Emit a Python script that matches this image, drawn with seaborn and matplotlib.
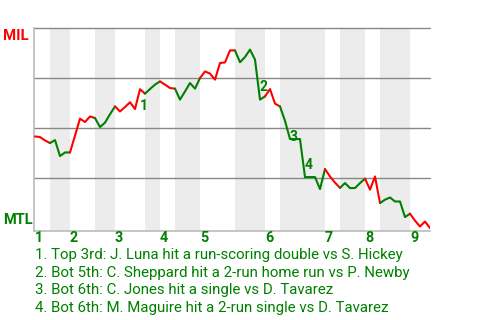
import matplotlib
matplotlib.use("Agg")
import matplotlib.pyplot as plt
import seaborn as sns
import numpy as np
import pandas as pd

# ---- data ----
win_prob = [0.458, 0.455, 0.438, 0.425, 0.44, 0.36, 0.378, 0.378, 0.462, 0.547,
            0.53, 0.558, 0.55, 0.505, 0.527, 0.569, 0.608, 0.583, 0.605, 0.629,
            0.595, 0.694, 0.672, 0.695, 0.717, 0.733, 0.717, 0.70, 0.697, 0.642,
            0.683, 0.725, 0.697, 0.75, 0.783, 0.772, 0.742, 0.825, 0.828, 0.888,
            0.888, 0.829, 0.855, 0.892, 0.842, 0.642, 0.658, 0.695, 0.622, 0.608,
            0.536, 0.445, 0.445, 0.445, 0.255, 0.255, 0.255, 0.195, 0.295, 0.258,
            0.227, 0.201, 0.225, 0.20, 0.20, 0.225, 0.247, 0.192, 0.258, 0.125,
            0.142, 0.153, 0.133, 0.133, 0.055, 0.072, 0.037, 0.008, 0.033, 0.0]
half_start = [0, 3, 7, 12, 16, 22, 25, 28, 33, 40, 46, 49, 58, 61, 66, 69, 75]
half_end = [3, 7, 12, 16, 22, 25, 28, 33, 40, 46, 49, 58, 61, 66, 69, 75, 79]
half_side = ["top", "bot"] * 8 + ["top"]
inning_labels = ["1", "2", "3", "4", "5", "6", "7", "8", "9"]
inning_start = [0, 7, 16, 25, 33, 46, 58, 66, 75]
event_index = [21, 45, 51, 54]
event_notes = [
    "1. Top 3rd: J. Luna hit a run-scoring double vs S. Hickey",
    "2. Bot 5th: C. Sheppard hit a 2-run home run vs P. Newby",
    "3. Bot 6th: C. Jones hit a single vs D. Tavarez",
    "4. Bot 6th: M. Maguire hit a 2-run single vs D. Tavarez",
]
team_top = "MIL"
team_bottom = "MTL"
grid_values = [0.25, 0.5, 0.75, 1.0]

RED = "#ff0000"
GREEN = "#008000"

sns.set_theme(style="white")
plt.rcParams["font.family"] = ["Roboto", "DejaVu Sans"]

df = pd.DataFrame({"event": np.arange(len(win_prob)), "wp": win_prob})

fig = plt.figure(figsize=(4.8, 3.2), dpi=100)
ax = fig.add_axes([34 / 480, 1 - 230.5 / 320, 396 / 480, 202.5 / 320])
ax.set_xlim(-0.2, len(win_prob) - 1)
ax.set_ylim(-0.012, 1.0)

# shaded bottom halves
for s, e, side in zip(half_start, half_end, half_side):
    if side == "bot":
        ax.axvspan(s, e, color="#ececec", lw=0, zorder=0)

for g in grid_values:
    ax.axhline(g, color="#888888", lw=1.0, zorder=1, clip_on=False)

for s, e, side in zip(half_start, half_end, half_side):
    sub = df.iloc[s:e + 1]
    sns.lineplot(data=sub, x="event", y="wp", ax=ax,
                 color=RED if side == "top" else GREEN, lw=1.5,
                 zorder=3, estimator=None, sort=False)

# event markers
for n, i in enumerate(event_index, start=1):
    mid = (win_prob[i - 1] + win_prob[i]) / 2
    ax.text(i, mid, str(n), ha="left", va="top", color=GREEN,
            fontsize=10, fontweight="bold", zorder=4)

for lab, s in zip(inning_labels, inning_start):
    ax.text(s, -0.035, lab, transform=ax.get_xaxis_transform(),
            ha="left", va="center", color=GREEN, fontsize=10.3, fontweight="bold")

ax.set_xticks([])
ax.set_yticks([])
ax.set_xlabel("")
ax.set_ylabel("")
for side in ["top", "right"]:
    ax.spines[side].set_visible(False)
for side in ["left", "bottom"]:
    ax.spines[side].set_color("#bbbbbb")
    ax.spines[side].set_linewidth(1.2)

fig.text(3 / 480, 1 - 35.5 / 320, team_top, color=RED, fontsize=10.7,
         fontweight="bold", ha="left", va="center")
fig.text(3 / 480, 1 - 220 / 320, team_bottom, color=GREEN, fontsize=10.5,
         fontweight="bold", ha="left", va="center")

baselines = [259.3, 277.0, 294.3, 311.7]
for note, b in zip(event_notes, baselines):
    fig.text(35 / 480, 1 - b / 320, note, color=GREEN, fontsize=10.8,
             ha="left", va="baseline")

fig.savefig("out.png", dpi=100)
